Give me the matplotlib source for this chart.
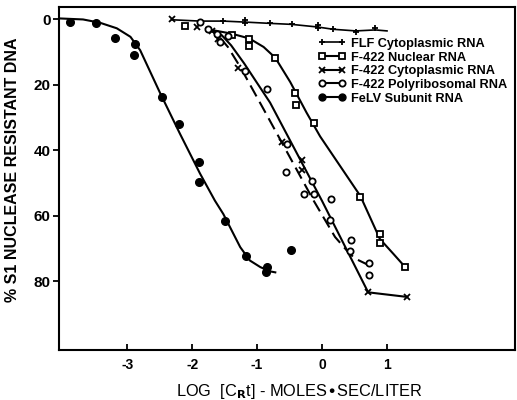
import numpy as np
import matplotlib
matplotlib.use('Agg')
import matplotlib.pyplot as plt
from matplotlib.lines import Line2D

plt.rcParams['font.family'] = ['Liberation Sans', 'DejaVu Sans']

# FLF cytoplasmic RNA (+)
flf_x = [-1.52, -1.19, -1.19, -0.80, -0.47, -0.07, -0.07, 0.17, 0.52, 0.82]
flf_y = [0.5, 0.3, 1.2, 1.3, 1.6, 1.9, 2.8, 3.1, 3.9, 2.8]
flf_line_x = [-2.31, -1.88, -1.52, -1.19, -0.80, -0.47, -0.07, 0.17, 0.52, 0.82, 1.00]
flf_line_y = [0.2, 0.6, 0.6, 0.9, 1.3, 1.6, 2.4, 3.1, 3.6, 3.3, 3.6]

# F-422 nuclear RNA (squares)
nuc_x = [-2.11, -1.39, -1.12, -1.12, -0.72, -0.42, -0.40, -0.12, 0.59, 0.89, 0.89, 1.28]
nuc_y = [2.0, 4.7, 6.2, 8.2, 11.8, 22.4, 26.1, 31.7, 54.3, 65.7, 68.3, 75.7]
nuc_curve_x = [-1.65, -1.40, -1.12, -0.90, -0.72, -0.49, -0.24, -0.03, 0.59, 0.89, 1.10, 1.28]
nuc_curve_y = [3.5, 4.4, 5.9, 8.5, 11.8, 19.2, 28.5, 35.8, 54.0, 67.1, 71.7, 75.7]

# F-422 cytoplasmic RNA (x)
cyt_x = [-2.31, -1.93, -1.70, -1.60, -1.29, -0.61, -0.31, -0.31, 0.71, 1.31]
cyt_y = [0.1, 2.4, 3.5, 6.0, 14.9, 37.5, 43.1, 46.2, 83.4, 84.8]
cyt_curve_x = [-1.75, -1.55, -1.40, -1.20, -0.80, 0.00, 0.71, 1.31]
cyt_curve_y = [2.8, 4.8, 8.0, 13.5, 25.5, 55.5, 83.4, 84.8]

# F-422 polyribosomal RNA (open circles)
pol_x = [-1.88, -1.75, -1.62, -1.57, -1.45, -1.19, -0.85, -0.54, -0.55, -0.16,
         -0.28, -0.13, 0.14, 0.12, 0.45, 0.43, 0.73, 0.72]
pol_y = [0.8, 3.0, 4.5, 7.0, 5.0, 15.9, 21.2, 38.0, 46.7, 49.5,
         53.3, 53.5, 55.0, 61.3, 67.4, 70.9, 74.5, 78.1]
pol_curve_x = [-1.80, -1.62, -1.45, -1.26, -0.90, -0.13, 0.20, 0.38, 0.50, 0.79]
pol_curve_y = [2.6, 4.5, 8.5, 14.6, 27.5, 55.4, 66.5, 70.6, 73.0, 75.8]

# FeLV subunit RNA (filled circles)
felv_x = [-3.88, -3.48, -3.19, -2.88, -2.89, -2.47, -2.20, -1.89, -1.89, -1.49,
          -1.17, -0.85, -0.86, -0.48]
felv_y = [0.8, 1.3, 5.9, 7.7, 11.0, 23.8, 31.9, 43.6, 49.8, 61.5,
          72.4, 75.7, 77.3, 70.4]
felv_curve_x = [-4.03, -3.68, -3.42, -3.16, -2.95, -2.80, -2.49, -2.19, -1.88, -1.65,
                -1.52, -1.26, -1.11, -0.95, -0.80, -0.72]
felv_curve_y = [-0.2, 0.1, 1.1, 2.8, 5.4, 9.5, 22.7, 34.9, 47.1, 55.4,
                59.5, 69.6, 73.7, 75.7, 77.0, 77.3]

xticks = [-3, -2, -1, 0, 1]
yticks = [0, 20, 40, 60, 80]

fig = plt.figure(figsize=(5.17, 4.0), dpi=100)
ax = fig.add_axes([0.1141, 0.125, 0.882, 0.8575])

lw = 1.5
k = 'black'

ax.plot(flf_line_x, flf_line_y, color=k, lw=1.2)
ax.plot(flf_x, flf_y, ls='none', marker='+', ms=5, mew=1.3, color=k)

ax.plot(nuc_curve_x, nuc_curve_y, color=k, lw=lw)
ax.plot(nuc_x, nuc_y, ls='none', marker='s', ms=4.5, mew=1.3, mfc='white', color=k)

ax.plot(cyt_curve_x, cyt_curve_y, color=k, lw=lw)
ax.plot(cyt_x, cyt_y, ls='none', marker='x', ms=4.5, mew=1.3, color=k)

ax.plot(pol_curve_x, pol_curve_y, color=k, lw=lw, ls=(0, (6, 3)))
ax.plot(pol_x, pol_y, ls='none', marker='o', ms=4.5, mew=1.3, mfc='white', color=k)

ax.plot(felv_curve_x, felv_curve_y, color=k, lw=lw)
ax.plot(felv_x, felv_y, ls='none', marker='o', ms=5.5, color=k)

ax.set_xlim(-4.05, 2.97)
ax.set_ylim(101, -3.7)
ax.set_xticks(xticks)
ax.set_xticklabels(['-3', '-2', '-1', '0', '1'])
ax.set_yticks(yticks)
for s in ax.spines.values():
    s.set_linewidth(1.5)
ax.tick_params(axis='x', direction='in', length=4, width=1.3, labelsize=10, pad=6)
ax.tick_params(axis='y', direction='out', length=4, width=1.3, labelsize=11, pad=2)
for t in ax.get_yticklabels() + ax.get_xticklabels():
    t.set_fontweight('bold')

ax.set_ylabel('% S1 NUCLEASE RESISTANT DNA', fontsize=11.5, fontweight='bold')
ax.yaxis.set_label_coords(-0.086, 0.525)
ax.set_xlabel(r'LOG  [C$_\mathbf{R}$t] - MOLES$\bullet$SEC/LITER', fontsize=11.8)
ax.xaxis.set_label_coords(0.528, -0.092)

handles = [
    Line2D([], [], color=k, lw=1.2, marker='+', ms=5, mew=1.3),
    Line2D([], [], color=k, lw=lw, marker='s', ms=4.5, mew=1.3, mfc='white'),
    Line2D([], [], color=k, lw=lw, marker='x', ms=4.5, mew=1.3),
    Line2D([], [], color=k, lw=lw, marker='o', ms=4.5, mew=1.3, mfc='white'),
    Line2D([], [], color=k, lw=lw, marker='o', ms=5),
]
labels = ['FLF Cytoplasmic RNA', 'F-422 Nuclear RNA', 'F-422 Cytoplasmic RNA',
          'F-422 Polyribosomal RNA', 'FeLV Subunit RNA']
leg = ax.legend(handles, labels, loc='upper left', bbox_to_anchor=(0.568, 0.91),
                frameon=False, numpoints=2, handlelength=2.2, handletextpad=0.35,
                labelspacing=0.13, borderpad=0, borderaxespad=0,
                prop={'size': 9.2, 'weight': 'bold'})

fig.savefig('out.png', dpi=100)
